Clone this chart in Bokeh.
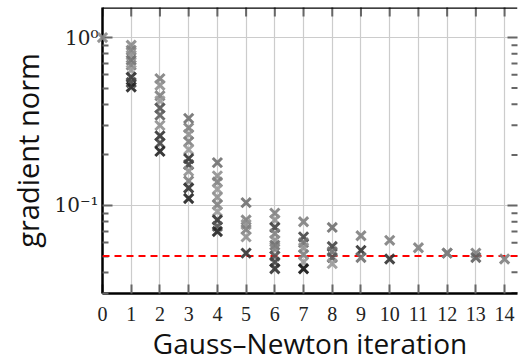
import math
from bokeh.plotting import figure
from bokeh.models import (FixedTicker, CustomJSTickFormatter, Span,
                          ColumnDataSource, Range1d)
from bokeh.embed import file_html
from bokeh.resources import INLINE

# ---- data ----
iteration = [0,
             1, 1, 1, 1, 1, 1, 1, 1, 1,
             2, 2, 2, 2, 2, 2, 2, 2, 2, 2,
             3, 3, 3, 3, 3, 3, 3, 3, 3, 3, 3,
             4, 4, 4, 4, 4, 4, 4, 4, 4, 4,
             5, 5, 5, 5, 5, 5,
             6, 6, 6, 6, 6, 6, 6, 6, 6, 6,
             7, 7, 7, 7, 7, 7, 7,
             8, 8, 8, 8, 8,
             9, 9, 9,
             10, 10,
             11,
             12, 12,
             13, 13,
             14]
grad_norm = [1.0,
             0.90, 0.84, 0.785, 0.733, 0.685, 0.64, 0.58, 0.54, 0.507,
             0.57, 0.52, 0.45, 0.42, 0.38, 0.345, 0.30, 0.26, 0.235, 0.21,
             0.33, 0.29, 0.265, 0.24, 0.215, 0.19, 0.175, 0.16, 0.14, 0.127, 0.11,
             0.18, 0.15, 0.138, 0.125, 0.112, 0.101, 0.092, 0.082, 0.075, 0.07,
             0.104, 0.082, 0.077, 0.072, 0.065, 0.052,
             0.09, 0.082, 0.074, 0.068, 0.062, 0.058, 0.055, 0.05, 0.046, 0.042,
             0.08, 0.065, 0.06, 0.056, 0.051, 0.046, 0.042,
             0.074, 0.057, 0.053, 0.049, 0.045,
             0.066, 0.054, 0.049,
             0.062, 0.048,
             0.056,
             0.052, 0.052,
             0.052, 0.049,
             0.048]
shade = ["#888888",
         "#888888", "#808080", "#909090", "#707070", "#808080", "#999999", "#333333", "#444444", "#222222",
         "#808080", "#909090", "#808080", "#999999", "#555555", "#606060", "#909090", "#333333", "#444444", "#222222",
         "#707070", "#808080", "#909090", "#808080", "#999999", "#333333", "#444444", "#909090", "#808080", "#333333", "#222222",
         "#707070", "#909090", "#808080", "#999999", "#909090", "#808080", "#999999", "#333333", "#555555", "#222222",
         "#707070", "#808080", "#909090", "#808080", "#909090", "#333333",
         "#808080", "#909090", "#444444", "#808080", "#909090", "#707070", "#808080", "#555555", "#444444", "#333333",
         "#808080", "#444444", "#707070", "#909090", "#808080", "#999999", "#111111",
         "#707070", "#444444", "#707070", "#555555", "#999999",
         "#808080", "#333333", "#707070",
         "#808080", "#333333",
         "#808080",
         "#707070", "#808080",
         "#808080", "#606060",
         "#808080"]
target_norm = 0.05
major_y = [0.1, 1.0]
minor_y = [0.03, 0.04, 0.05, 0.06, 0.07, 0.08, 0.09,
           0.2, 0.3, 0.4, 0.5, 0.6, 0.7, 0.8, 0.9]
x_ticks = list(range(0, 15))

x_lo, x_hi = 0, 14.45
y_lo, y_hi = 0.0299, 1.51

src = ColumnDataSource(dict(x=iteration, y=grad_norm, c=shade))

p = figure(width=518, height=364, y_axis_type="log",
           x_range=Range1d(x_lo, x_hi), y_range=Range1d(y_lo, y_hi),
           output_backend="svg", toolbar_location=None,
           min_border_left=102, min_border_top=7, min_border_bottom=70,
           min_border_right=1)
p.outline_line_color = None
p.background_fill_color = "white"
p.border_fill_color = "white"

tick_font = "Liberation Serif"
label_font = "Open Sans"
tick_gray = "#666666"

# grid
p.xgrid.ticker = FixedTicker(ticks=x_ticks)
p.ygrid.ticker = FixedTicker(ticks=major_y)
for g in (p.xgrid[0], p.ygrid[0]):
    g.grid_line_color = "#cccccc"
    g.grid_line_width = 1.2

# tick marks on the top edge and right edge (mirrored, pointing inwards)
p.scatter(x=x_ticks, y=[y_hi] * len(x_ticks), marker="dash", angle=math.pi / 2,
          size=18, line_color=tick_gray, line_width=2)
p.scatter(x=[x_hi] * len(minor_y), y=minor_y, marker="dash",
          size=12, line_color=tick_gray, line_width=2)
p.scatter(x=[x_hi] * len(major_y), y=major_y, marker="dash",
          size=20, line_color=tick_gray, line_width=2)

# red target line
p.add_layout(Span(location=target_norm, dimension="width", line_color="#ff0000",
                  line_width=2.2, line_dash="7 5"))

# top frame line
p.add_layout(Span(location=y_hi, dimension="width", line_color="black",
                  line_width=2.5))

# data markers, drawn above the axes so that the marker at iteration 0 is whole
p.scatter("x", "y", source=src, marker="x", size=13, line_width=3,
          line_color="c", line_alpha=0.9, level="overlay")

# bottom axis
xa = p.xaxis[0]
xa.ticker = FixedTicker(ticks=x_ticks)
xa.axis_line_width = 2.5
xa.axis_line_color = "black"
xa.major_tick_in = 9
xa.major_tick_out = 0
xa.major_tick_line_color = tick_gray
xa.major_tick_line_width = 2
xa.minor_tick_line_color = None
xa.major_label_text_font = tick_font
xa.major_label_text_font_size = "20px"
xa.major_label_text_color = "#222222"
xa.major_label_standoff = 13
xa.axis_label = "Gauss\u2013Newton iteration"
xa.axis_label_text_font = label_font
xa.axis_label_text_font_size = "28px"
xa.axis_label_text_font_style = "normal"
xa.axis_label_text_color = "#111111"
xa.axis_label_standoff = 0

# left axis
ya = p.yaxis[0]
ya.ticker = FixedTicker(ticks=major_y, minor_ticks=minor_y)
ya.formatter = CustomJSTickFormatter(code="""
const e = Math.round(Math.log10(tick));
const sup = {'-':'\u207b','0':'\u2070','1':'\u00b9','2':'\u00b2','3':'\u00b3'};
return '10' + String(e).split('').map(c => sup[c]).join('');
""")
ya.axis_line_width = 2.5
ya.axis_line_color = "black"
ya.major_tick_in = 10
ya.major_tick_out = 0
ya.minor_tick_in = 6
ya.minor_tick_out = 0
ya.major_tick_line_color = tick_gray
ya.minor_tick_line_color = tick_gray
ya.major_tick_line_width = 2
ya.minor_tick_line_width = 2
ya.major_label_text_font = "DejaVu Serif"
ya.major_label_text_font_size = "20px"
ya.major_label_text_color = "#222222"
ya.major_label_standoff = 4
ya.axis_label = "gradient norm"
ya.axis_label_text_font = label_font
ya.axis_label_text_font_size = "29px"
ya.axis_label_text_font_style = "normal"
ya.axis_label_text_color = "#111111"
ya.axis_label_standoff = 4

open("out.html", "w").write(file_html(p, INLINE))
